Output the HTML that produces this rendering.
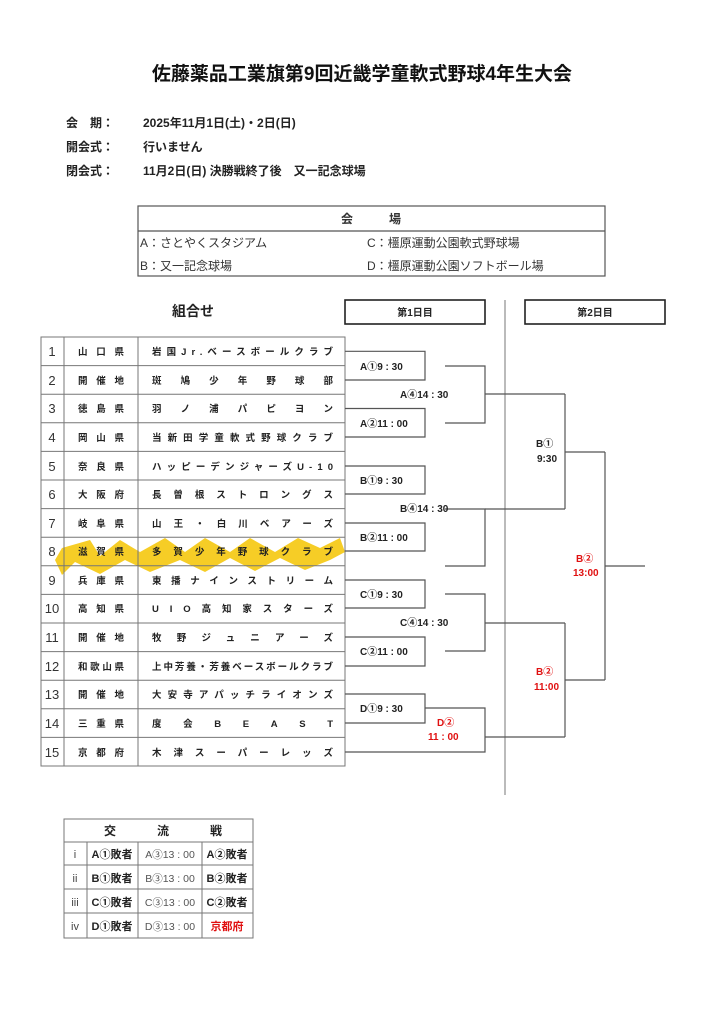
<!DOCTYPE html>
<html><head><meta charset="utf-8"><style>
html,body{margin:0;padding:0;background:#fff;}
svg{display:block;font-family:"Liberation Sans","Noto Sans CJK JP",sans-serif;}
</style></head><body>
<svg width="713" height="1024" viewBox="0 0 713 1024" xmlns="http://www.w3.org/2000/svg">
<rect width="713" height="1024" fill="#fff"/>
<text x="362" y="80" font-size="19" font-weight="bold" text-anchor="middle" fill="#111">佐藤薬品工業旗第9回近畿学童軟式野球4年生大会</text>
<g font-size="12" font-weight="bold" fill="#222">
<text x="66" y="127">会　期：</text><text x="143" y="127">2025年11月1日(土)・2日(日)</text>
<text x="66" y="151">開会式：</text><text x="143" y="151">行いません</text>
<text x="66" y="175">閉会式：</text><text x="143" y="175">11月2日(日)  決勝戦終了後　又一記念球場</text>
</g>
<g stroke="#555" fill="none" stroke-width="1.2">
<rect x="138" y="206" width="467" height="70"/>
<line x1="138" y1="231" x2="605" y2="231"/>
</g>
<g font-size="12" fill="#333">
<text x="371" y="223" text-anchor="middle" font-weight="bold">会　　　場</text>
<text x="140" y="247">A：さとやくスタジアム</text>
<text x="367" y="247">C：橿原運動公園軟式野球場</text>
<text x="140" y="270">B：又一記念球場</text>
<text x="367" y="270">D：橿原運動公園ソフトボール場</text>
</g>
<text x="172" y="316" font-size="14" font-weight="bold" fill="#222">組合せ</text>
<g stroke="#222" fill="none" stroke-width="1.6">
<rect x="345" y="300" width="140" height="24"/>
<rect x="525" y="300" width="140" height="24"/>
</g>
<g font-size="10" font-weight="bold" fill="#222" text-anchor="middle">
<text x="415" y="316">第1日目</text><text x="595" y="316">第2日目</text>
</g>
<line x1="505" y1="300" x2="505" y2="795" stroke="#777" stroke-width="1"/>
<!-- highlight -->
<path d="M55,560 L62,548 L90,540 L100,556 L120,540 L140,552 L165,538 L185,552 L205,538 L230,552 L250,538 L275,552 L298,538 L320,548 L340,538 L345,552 L330,560 L305,570 L280,558 L255,571 L230,558 L205,572 L180,560 L150,572 L125,560 L100,574 L75,562 L62,575 Z" fill="#f5c400" opacity="0.85"/>
<!-- main table -->
<g stroke="#777" stroke-width="1" fill="none">
<rect x="41" y="337" width="304" height="429"/>
<line x1="64" y1="337" x2="64" y2="766"/>
<line x1="138" y1="337" x2="138" y2="766"/>
<line x1="41" y1="365.6" x2="345" y2="365.6"/><line x1="41" y1="394.2" x2="345" y2="394.2"/>
<line x1="41" y1="422.8" x2="345" y2="422.8"/><line x1="41" y1="451.4" x2="345" y2="451.4"/>
<line x1="41" y1="480" x2="345" y2="480"/><line x1="41" y1="508.6" x2="345" y2="508.6"/>
<line x1="41" y1="537.2" x2="345" y2="537.2"/><line x1="41" y1="565.8" x2="345" y2="565.8"/>
<line x1="41" y1="594.4" x2="345" y2="594.4"/><line x1="41" y1="623" x2="345" y2="623"/>
<line x1="41" y1="651.6" x2="345" y2="651.6"/><line x1="41" y1="680.2" x2="345" y2="680.2"/>
<line x1="41" y1="708.8" x2="345" y2="708.8"/><line x1="41" y1="737.4" x2="345" y2="737.4"/>
</g>
<g font-size="13" fill="#333" text-anchor="middle">
<text x="52" y="356">1</text><text x="52" y="385">2</text><text x="52" y="413">3</text><text x="52" y="442">4</text><text x="52" y="471">5</text><text x="52" y="499">6</text><text x="52" y="528">7</text><text x="52" y="556">8</text><text x="52" y="585">9</text><text x="52" y="613">10</text><text x="52" y="642">11</text><text x="52" y="671">12</text><text x="52" y="699">13</text><text x="52" y="728">14</text><text x="52" y="757">15</text>
</g>
<g font-size="9.5" font-weight="bold" fill="#222">
<text x="78" y="355" textLength="46" lengthAdjust="spacing">山口県</text>
<text x="78" y="384" textLength="46" lengthAdjust="spacing">開催地</text>
<text x="78" y="412" textLength="46" lengthAdjust="spacing">徳島県</text>
<text x="78" y="441" textLength="46" lengthAdjust="spacing">岡山県</text>
<text x="78" y="470" textLength="46" lengthAdjust="spacing">奈良県</text>
<text x="78" y="498" textLength="46" lengthAdjust="spacing">大阪府</text>
<text x="78" y="527" textLength="46" lengthAdjust="spacing">岐阜県</text>
<text x="78" y="555" textLength="46" lengthAdjust="spacing">滋賀県</text>
<text x="78" y="584" textLength="46" lengthAdjust="spacing">兵庫県</text>
<text x="78" y="612" textLength="46" lengthAdjust="spacing">高知県</text>
<text x="78" y="641" textLength="46" lengthAdjust="spacing">開催地</text>
<text x="78" y="670" textLength="46" lengthAdjust="spacing">和歌山県</text>
<text x="78" y="698" textLength="46" lengthAdjust="spacing">開催地</text>
<text x="78" y="727" textLength="46" lengthAdjust="spacing">三重県</text>
<text x="78" y="756" textLength="46" lengthAdjust="spacing">京都府</text>
<text x="152" y="355" textLength="181" lengthAdjust="spacing">岩国Jr.ベースボールクラブ</text>
<text x="152" y="384" textLength="181" lengthAdjust="spacing">斑鳩少年野球部</text>
<text x="152" y="412" textLength="181" lengthAdjust="spacing">羽ノ浦パピヨン</text>
<text x="152" y="441" textLength="181" lengthAdjust="spacing">当新田学童軟式野球クラブ</text>
<text x="152" y="470" textLength="181" lengthAdjust="spacing">ハッピーデンジャーズU-10</text>
<text x="152" y="498" textLength="181" lengthAdjust="spacing">長曽根ストロングス</text>
<text x="152" y="527" textLength="181" lengthAdjust="spacing">山王・白川ベアーズ</text>
<text x="152" y="555" textLength="181" lengthAdjust="spacing">多賀少年野球クラブ</text>
<text x="152" y="584" textLength="181" lengthAdjust="spacing">東播ナインストリーム</text>
<text x="152" y="612" textLength="181" lengthAdjust="spacing">UIO高知家スターズ</text>
<text x="152" y="641" textLength="181" lengthAdjust="spacing">牧野ジュニアーズ</text>
<text x="152" y="670" textLength="181" lengthAdjust="spacing">上中芳養・芳養ベースボールクラブ</text>
<text x="152" y="698" textLength="181" lengthAdjust="spacing">大安寺アパッチライオンズ</text>
<text x="152" y="727" textLength="181" lengthAdjust="spacing">度会BEAST</text>
<text x="152" y="756" textLength="181" lengthAdjust="spacing">木津スーパーレッズ</text>
</g>
<!-- bracket -->
<g stroke="#555" stroke-width="1.2" fill="none">
<path d="M345,351.3 H425 V380 H345"/>
<path d="M345,408.5 H425 V437 H345"/>
<path d="M345,466 H425 V494 H345"/>
<path d="M345,523 H425 V551 H345"/>
<path d="M345,580 H425 V608 H345"/>
<path d="M345,637 H425 V666 H345"/>
<path d="M345,694 H425 V723 H345"/>
<path d="M445,366 H485 V423 H445"/>
<path d="M485,394 H565"/>
<path d="M445,509 H485 V566 H445"/>
<path d="M485,509 H565"/>
<path d="M565,394 V509"/>
<path d="M565,452 H605"/>
<path d="M445,594 H485 V651 H445"/>
<path d="M485,623 H565"/>
<path d="M425,708 H485 V752 H345"/>
<path d="M485,737 H565"/>
<path d="M565,623 V737"/>
<path d="M565,680 H605"/>
<path d="M605,452 V680"/>
<path d="M605,566 H645"/>
</g>
<g font-size="10" font-weight="bold" fill="#222">
<text x="360" y="370">A①9 : 30</text>
<text x="400" y="398">A④14 : 30</text>
<text x="360" y="427">A②11 : 00</text>
<text x="360" y="484">B①9 : 30</text>
<text x="400" y="512">B④14 : 30</text>
<text x="360" y="541">B②11 : 00</text>
<text x="360" y="598">C①9 : 30</text>
<text x="400" y="626">C④14 : 30</text>
<text x="360" y="655">C②11 : 00</text>
<text x="360" y="712">D①9 : 30</text>
<text x="536" y="447">B①</text>
<text x="537" y="462">9:30</text>
</g>
<g font-size="10" font-weight="bold" fill="#e01010">
<text x="437" y="726">D②</text>
<text x="428" y="740">11 : 00</text>
<text x="576" y="562">B②</text>
<text x="573" y="576">13:00</text>
<text x="536" y="675">B②</text>
<text x="534" y="690">11:00</text>
</g>
<!-- exchange table -->
<g stroke="#777" stroke-width="1" fill="none">
<rect x="64" y="819" width="189" height="119"/>
<line x1="64" y1="842" x2="253" y2="842"/>
<line x1="64" y1="865" x2="253" y2="865"/>
<line x1="64" y1="889" x2="253" y2="889"/>
<line x1="64" y1="913" x2="253" y2="913"/>
<line x1="87" y1="842" x2="87" y2="938"/>
<line x1="138" y1="842" x2="138" y2="938"/>
<line x1="202" y1="842" x2="202" y2="938"/>
</g>
<text x="104" y="835" font-size="12" font-weight="bold" fill="#222" textLength="118" lengthAdjust="spacing">交流戦</text>
<g font-size="11" fill="#444" text-anchor="middle">
<text x="75" y="858">i</text><text x="75" y="882">ii</text><text x="75" y="906">iii</text><text x="75" y="930">iv</text>
</g>
<g font-size="11" font-weight="bold" fill="#222" text-anchor="middle">
<text x="112" y="858">A①敗者</text><text x="112" y="882">B①敗者</text><text x="112" y="906">C①敗者</text><text x="112" y="930">D①敗者</text>
<text x="227" y="858">A②敗者</text><text x="227" y="882">B②敗者</text><text x="227" y="906">C②敗者</text>
<text x="227" y="930" fill="#e01010">京都府</text>
</g>
<g font-size="10.5" fill="#555" text-anchor="middle">
<text x="170" y="858">A③13 : 00</text><text x="170" y="882">B③13 : 00</text><text x="170" y="906">C③13 : 00</text><text x="170" y="930">D③13 : 00</text>
</g>
</svg>
</body></html>
